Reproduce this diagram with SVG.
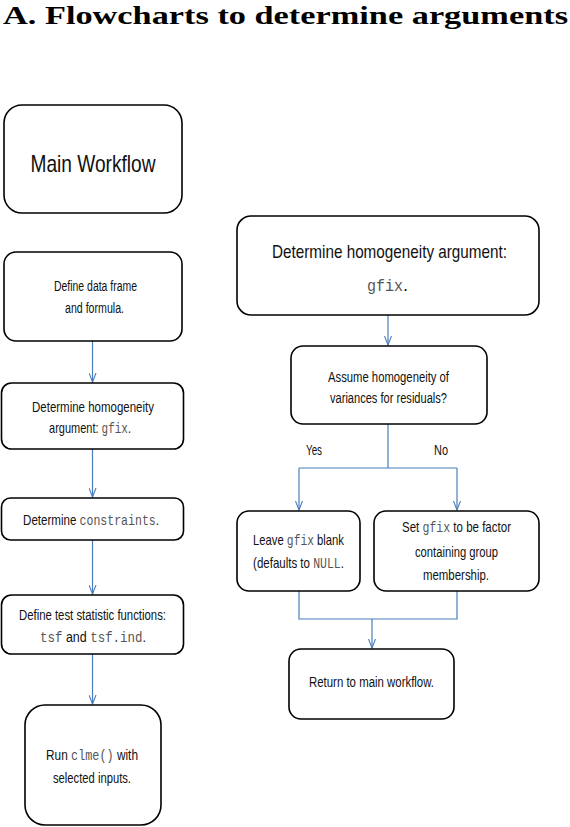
<svg xmlns="http://www.w3.org/2000/svg" width="570" height="827" viewBox="0 0 570 827">
<style>
.box{fill:#fff;stroke:#000;stroke-width:1.6}
.t{font-family:"Liberation Sans",Arial,sans-serif;font-size:14px;fill:#111;text-anchor:middle}
.m{font-family:"Liberation Mono","Courier New",monospace;fill:#555}
.c{fill:none;stroke:#4a7ebb;stroke-width:1.2}
.title{font-family:"Liberation Serif","Times New Roman",serif;font-weight:bold;font-size:26px;fill:#000}
</style>
<defs>
<marker id="ah" viewBox="0 0 10 8" refX="9.5" refY="4" markerWidth="10" markerHeight="8" markerUnits="userSpaceOnUse" orient="auto">
<path d="M0.5,0.5 L9.5,4 L0.5,7.5" fill="none" stroke="#4a7ebb" stroke-width="1.1"/>
</marker>
</defs>
<rect width="570" height="827" fill="#fff"/>
<text class="title" x="3" y="24" textLength="565" lengthAdjust="spacingAndGlyphs">A. Flowcharts to determine arguments</text>

<g id="connectors">
<path class="c" d="M92.5,341 V382" marker-end="url(#ah)"/>
<path class="c" d="M92.5,449 V497" marker-end="url(#ah)"/>
<path class="c" d="M92.5,540 V594" marker-end="url(#ah)"/>
<path class="c" d="M92.5,654 V704" marker-end="url(#ah)"/>
<path class="c" d="M388,315 V345" marker-end="url(#ah)"/>
<path class="c" d="M388,424 V468 M299,468 H457"/>
<path class="c" d="M299,468 V510" marker-end="url(#ah)"/>
<path class="c" d="M457,468 V510" marker-end="url(#ah)"/>
<path class="c" d="M299,591 V619 H457 V591"/>
<path class="c" d="M372,619 V648" marker-end="url(#ah)"/>
<text class="t" x="314" y="455" textLength="16" lengthAdjust="spacingAndGlyphs">Yes</text>
<text class="t" x="441" y="455" textLength="14" lengthAdjust="spacingAndGlyphs">No</text>
</g>

<g id="main-workflow">
<rect class="box" x="4" y="105" width="178" height="108" rx="18"/>
<text class="t" x="93" y="172" style="font-size:24px" textLength="125" lengthAdjust="spacingAndGlyphs">Main Workflow</text>
</g>
<g id="define-data">
<rect class="box" x="4" y="252" width="178" height="89" rx="12"/>
<text class="t" x="95.5" y="291" textLength="83" lengthAdjust="spacingAndGlyphs">Define data frame</text>
<text class="t" x="94.5" y="313" textLength="59" lengthAdjust="spacingAndGlyphs">and formula.</text>
</g>
<g id="determine-homog">
<rect class="box" x="1.5" y="383" width="182" height="66" rx="10"/>
<text class="t" x="93" y="412" textLength="122" lengthAdjust="spacingAndGlyphs">Determine homogeneity</text>
<text class="t" transform="translate(90,433) scale(0.785,1)">argument: <tspan class="m">gfix</tspan>.</text>
</g>
<g id="determine-constraints">
<rect class="box" x="1.5" y="498" width="182" height="42" rx="9"/>
<text class="t" transform="translate(91,525) scale(0.825,1)">Determine <tspan class="m">constraints</tspan>.</text>
</g>
<g id="define-tsf">
<rect class="box" x="1.5" y="595" width="182" height="59" rx="10"/>
<text class="t" x="92.5" y="620" textLength="147" lengthAdjust="spacingAndGlyphs">Define test statistic functions:</text>
<text class="t" transform="translate(93,642) scale(0.89,1)"><tspan class="m">tsf</tspan> and <tspan class="m">tsf.ind</tspan>.</text>
</g>
<g id="run-clme">
<rect class="box" x="25" y="705" width="136" height="120" rx="20"/>
<text class="t" transform="translate(92,760) scale(0.846,1)">Run <tspan class="m">clme()</tspan> with</text>
<text class="t" x="92" y="783" textLength="78" lengthAdjust="spacingAndGlyphs">selected inputs.</text>
</g>

<g id="homog-arg">
<rect class="box" x="237" y="216" width="302" height="99" rx="14"/>
<text class="t" x="389.5" y="258" style="font-size:19px" textLength="235" lengthAdjust="spacingAndGlyphs">Determine homogeneity argument:</text>
<text class="t" transform="translate(387.5,291) scale(0.94,1)" style="font-size:19px"><tspan class="m" style="font-size:16px">gfix</tspan>.</text>
</g>
<g id="assume-homog">
<rect class="box" x="291" y="346" width="196" height="78" rx="12"/>
<text class="t" x="388.5" y="382" textLength="121" lengthAdjust="spacingAndGlyphs">Assume homogeneity of</text>
<text class="t" x="388.5" y="403" textLength="117" lengthAdjust="spacingAndGlyphs">variances for residuals?</text>
</g>
<g id="leave-blank">
<rect class="box" x="237" y="511" width="123" height="80" rx="12"/>
<text class="t" transform="translate(298.5,545) scale(0.805,1)">Leave <tspan class="m">gfix</tspan> blank</text>
<text class="t" transform="translate(298.5,568) scale(0.822,1)">(defaults to <tspan class="m">NULL</tspan>.</text>
</g>
<g id="set-gfix">
<rect class="box" x="374" y="511" width="165" height="80" rx="12"/>
<text class="t" transform="translate(456.5,532) scale(0.823,1)">Set <tspan class="m">gfix</tspan> to be factor</text>
<text class="t" x="456.5" y="557" textLength="83" lengthAdjust="spacingAndGlyphs">containing group</text>
<text class="t" x="456" y="580" textLength="66" lengthAdjust="spacingAndGlyphs">membership.</text>
</g>
<g id="return-main">
<rect class="box" x="289" y="649" width="165" height="70" rx="12"/>
<text class="t" x="371.5" y="687" textLength="125" lengthAdjust="spacingAndGlyphs">Return to main workflow.</text>
</g>
</svg>
